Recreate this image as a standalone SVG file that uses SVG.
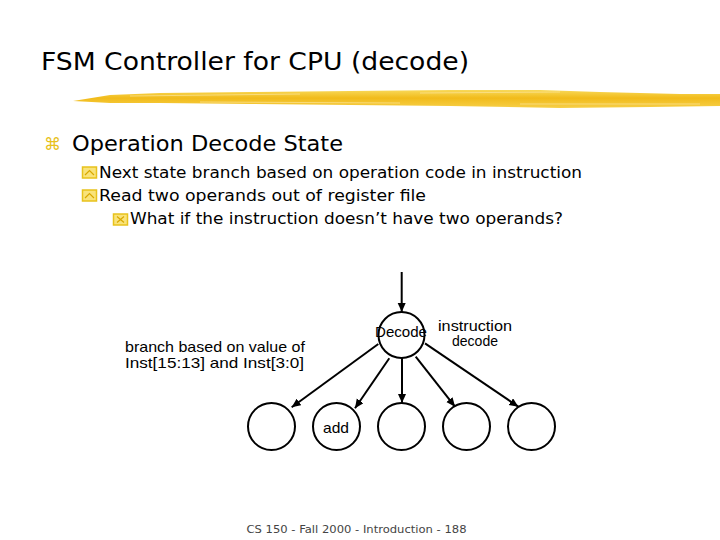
<svg xmlns="http://www.w3.org/2000/svg" width="720" height="540" viewBox="0 0 720 540">
<defs>
<style>
.title{font-family:"DejaVu Sans","Liberation Sans",sans-serif;font-size:24px;fill:#000}
.l1{font-family:"DejaVu Sans","Liberation Sans",sans-serif;font-size:21px;fill:#000}
.l2{font-family:"DejaVu Sans","Liberation Sans",sans-serif;font-size:16px;fill:#000}
.lab{font-family:"Liberation Sans","Arial",sans-serif;font-size:15px;fill:#000}
.lab2{font-family:"Liberation Sans","Arial",sans-serif;font-size:14px;fill:#000}
.foot{font-family:"DejaVu Sans","Liberation Sans",sans-serif;font-size:11px;fill:#444}
.state{fill:#fff;stroke:#000;stroke-width:2}
.edge{fill:none;stroke:#000;stroke-width:2}
.bbox{fill:#f9e37a;stroke:#e8c21c;stroke-width:1.5}
.bmark{fill:none;stroke:#d9a800;stroke-width:1.2}
</style>
<marker id="arr" markerUnits="userSpaceOnUse" markerWidth="10" markerHeight="10" refX="9" refY="4" orient="auto">
<path d="M0,0 L9,4 L0,8 z" fill="#000"/>
</marker>
<linearGradient id="brush" x1="0" y1="0" x2="0" y2="1">
<stop offset="0" stop-color="#f8d95a"/>
<stop offset="0.45" stop-color="#f1bb1a"/>
<stop offset="1" stop-color="#f6cf48"/>
</linearGradient>
</defs>
<rect width="720" height="540" fill="#fff"/>

<g id="title">
<text class="title" x="41" y="70" textLength="428" lengthAdjust="spacingAndGlyphs">FSM Controller for CPU (decode)</text>
<path d="M73,101 L110,95 L160,93 L250,92 L350,91 L450,90 L540,90 L600,92 L680,94 L720,94 L720,106 L650,107 L560,108 L450,106 L350,105 L250,104 L160,103 L110,103 Z" fill="url(#brush)"/>
<path d="M130,96 L300,94 M420,93 L560,92 M200,102 L400,103 M520,104 L700,104" stroke="#fbe49a" stroke-width="1" fill="none" opacity="0.7"/>
</g>

<g id="bullets">
<text x="44" y="150" font-family="DejaVu Sans,sans-serif" font-size="17" fill="#e8c21c">⌘</text>
<text class="l1" x="72" y="151" textLength="271" lengthAdjust="spacingAndGlyphs">Operation Decode State</text>
<rect class="bbox" x="82.5" y="167" width="14" height="11"/>
<polyline class="bmark" points="85,175 89.5,170.5 94,175"/>
<text class="l2" x="99" y="178" textLength="483" lengthAdjust="spacingAndGlyphs">Next state branch based on operation code in instruction</text>
<rect class="bbox" x="82.5" y="190" width="14" height="11"/>
<polyline class="bmark" points="85,198 89.5,193.5 94,198"/>
<text class="l2" x="99" y="201" textLength="327" lengthAdjust="spacingAndGlyphs">Read two operands out of register file</text>
<rect class="bbox" x="113.5" y="214" width="14" height="11"/>
<path class="bmark" d="M117,216.5 L124,222.5 M124,216.5 L117,222.5"/>
<text class="l2" x="130" y="224" textLength="433" lengthAdjust="spacingAndGlyphs">What if the instruction doesn’t have two operands?</text>
</g>

<g id="connectors">
<line class="edge" x1="401.7" y1="272" x2="401.7" y2="312" marker-end="url(#arr)"/>
<line class="edge" x1="378.3" y1="344" x2="291.7" y2="407.3" marker-end="url(#arr)"/>
<line class="edge" x1="389.3" y1="358.3" x2="355" y2="408.3" marker-end="url(#arr)"/>
<line class="edge" x1="402" y1="358" x2="402" y2="403" marker-end="url(#arr)"/>
<line class="edge" x1="415.7" y1="356.7" x2="455" y2="406.7" marker-end="url(#arr)"/>
<line class="edge" x1="425" y1="343.3" x2="518.3" y2="406.7" marker-end="url(#arr)"/>
</g>

<g id="decode">
<circle class="state" cx="401.5" cy="335" r="23"/>
<text class="lab" x="375" y="337" textLength="52" lengthAdjust="spacingAndGlyphs">Decode</text>
</g>
<g id="decode-label">
<text class="lab2" x="438" y="331" textLength="74" lengthAdjust="spacingAndGlyphs">instruction</text>
<text class="lab2" x="452" y="346" textLength="46" lengthAdjust="spacingAndGlyphs">decode</text>
</g>
<g id="branch-label">
<text class="lab" x="125" y="352" textLength="180" lengthAdjust="spacingAndGlyphs">branch based on value of</text>
<text class="lab" x="125" y="368" textLength="179" lengthAdjust="spacingAndGlyphs">Inst[15:13] and Inst[3:0]</text>
</g>
<g id="s1"><circle class="state" cx="271.5" cy="426.5" r="23.5"/></g>
<g id="add">
<circle class="state" cx="336.5" cy="426.5" r="23.5"/>
<text class="lab" x="323" y="433" textLength="26" lengthAdjust="spacingAndGlyphs">add</text>
</g>
<g id="s3"><circle class="state" cx="401.5" cy="426.5" r="23.5"/></g>
<g id="s4"><circle class="state" cx="466.5" cy="426.5" r="23.5"/></g>
<g id="s5"><circle class="state" cx="531.5" cy="426.5" r="23.5"/></g>

<g id="footer">
<text class="foot" x="246.5" y="533" textLength="220" lengthAdjust="spacingAndGlyphs">CS 150 - Fall 2000 - Introduction - 188</text>
</g>
</svg>
